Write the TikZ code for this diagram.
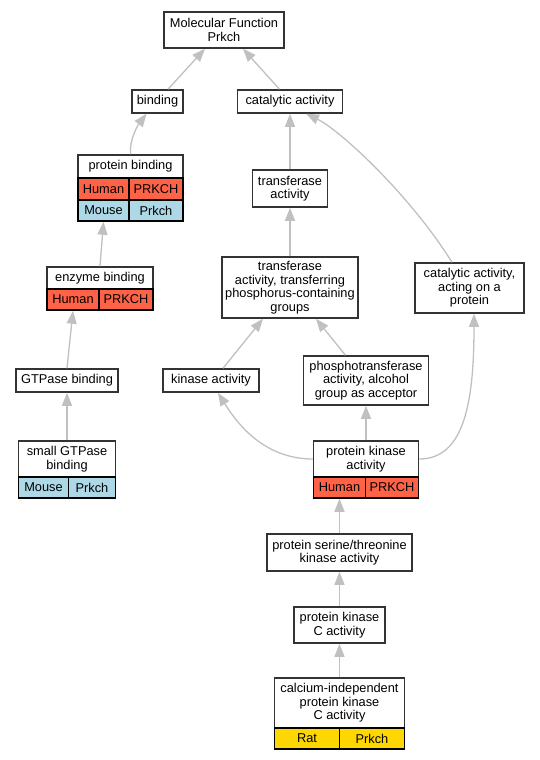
\documentclass[tikz,border=0pt]{standalone}
\usepackage{fontspec}
\setmainfont{Liberation Sans}
\usetikzlibrary{arrows.meta,calc}
\definecolor{humancell}{RGB}{255,99,71}
\definecolor{mousecell}{RGB}{173,216,230}
\definecolor{ratcell}{RGB}{255,215,0}
\definecolor{edgegris}{RGB}{192,192,192}
\definecolor{boxgris}{RGB}{51,51,51}
\newcommand{\gofont}{\fontsize{12.8}{13.5}\selectfont}
\tikzset{
	term/.style={draw=boxgris,line width=1.5pt,fill=white,align=center,inner sep=0pt,font=\gofont},
	cell/.style={draw=black,line width=1.5pt,inner sep=0pt,font=\gofont},
	isa/.style={draw=edgegris,line width=1.3pt,-{Triangle[length=13pt,width=10pt]}}
}

\begin{document}
\begin{tikzpicture}[x=1pt,y=-1pt]
		\useasboundingbox (0,0) rectangle (539,760);
			\node[term,minimum width=120,minimum height=36] (molfun) at (224,30) {Molecular Function\\Prkch};
			\node[term,minimum width=51,minimum height=23] (binding) at (157.5,101.5) {binding};
			\node[term,minimum width=105,minimum height=23] (catalytic) at (290,101.5) {catalytic activity};
			\node[term,minimum width=105,minimum height=23] (protbind) at (130.5,166.5) {protein binding};
				\node[cell,fill=humancell,minimum width=51,minimum height=22] (pbhuman) at (103.5,189) {Human};
				\node[cell,fill=humancell,minimum width=54,minimum height=22] (pbprkch) at (156,189) {PRKCH};
				\node[cell,fill=mousecell,minimum width=51,minimum height=21] (pbmouse) at (103.5,210.5) {Mouse};
				\node[cell,fill=mousecell,minimum width=54,minimum height=21] (pbprkchm) at (156,210.5) {Prkch};
			\node[term,minimum width=75,minimum height=37] (transact) at (290,188.5) {transferase\\activity};
			\node[term,minimum width=106,minimum height=22] (enzyme) at (100,278) {enzyme binding};
				\node[cell,fill=humancell,minimum width=52,minimum height=21] (enzhuman) at (73,299.5) {Human};
				\node[cell,fill=humancell,minimum width=54,minimum height=21] (enzprkch) at (126,299.5) {PRKCH};
			\node[term,minimum width=136,minimum height=61] (transfer) at (290,287.5) {transferase\\activity, transferring\\phosphorus-containing\\groups};
			\node[term,minimum width=109,minimum height=50] (acting) at (469.5,288) {catalytic activity,\\acting on a\\protein};
			\node[term,minimum width=102,minimum height=23] (gtpase) at (67,380.5) {GTPase binding};
			\node[term,minimum width=96,minimum height=23] (kinase) at (211,380.5) {kinase activity};
			\node[term,minimum width=125,minimum height=49] (phospho) at (366,380.5) {phosphotransferase\\activity, alcohol\\group as acceptor};
			\node[term,minimum width=97,minimum height=36] (smallgtp) at (67,459) {small GTPase\\binding};
				\node[cell,fill=mousecell,minimum width=50,minimum height=21] (sgmouse) at (43.5,487.5) {Mouse};
				\node[cell,fill=mousecell,minimum width=47,minimum height=21] (sgprkch) at (92,487.5) {Prkch};
			\node[term,minimum width=105,minimum height=36] (pka) at (366,459) {protein kinase\\activity};
				\node[cell,fill=humancell,minimum width=52,minimum height=21] (pkahuman) at (339.5,487.5) {Human};
				\node[cell,fill=humancell,minimum width=53,minimum height=21] (pkaprkch) at (392,487.5) {PRKCH};
			\node[term,minimum width=145,minimum height=37] (serthr) at (339.5,552.5) {protein serine/threonine\\kinase activity};
			\node[term,minimum width=91,minimum height=36] (pkc) at (339.5,625) {protein kinase\\C activity};
			\node[term,minimum width=130,minimum height=50] (calcium) at (339.5,703) {calcium-independent\\protein kinase\\C activity};
				\node[cell,fill=ratcell,minimum width=65,minimum height=21] (calrat) at (307,738.5) {Rat};
				\node[cell,fill=ratcell,minimum width=65,minimum height=21] (calprkch) at (372,738.5) {Prkch};
			\draw[isa] ($(binding.north)+(10.5,0)$) -- ($(molfun.south)+(-19,0)$);
			\draw[isa] ($(catalytic.north)+(-10.5,0)$) -- ($(molfun.south)+(19,0)$);
			\draw[isa] (protbind.north) .. controls (129,140) and (138,125) .. ($(binding.south)+(-11,0)$);
			\draw[isa] (transact.north) -- (catalytic.south);
			\draw[isa] ($(acting.north)+(-17.5,0)$) .. controls (410,195) and (340,130) .. ($(catalytic.south)+(16,0)$);
			\draw[isa] (enzyme.north) -- (pbmouse.south);
			\draw[isa] (transfer.north) -- (transact.south);
			\draw[isa] (gtpase.north) -- (enzhuman.south);
			\draw[isa] ($(kinase.north)+(12,0)$) -- ($(transfer.south)+(-27,0)$);
			\draw[isa] ($(phospho.north)+(-20.5,0)$) -- ($(transfer.south)+(26,0)$);
			\draw[isa] (smallgtp.north) -- (gtpase.south);
			\draw[isa] (pka.west) .. controls (265,459) and (238,425) .. ($(kinase.south)+(7,0)$);
			\draw[isa] (pka.north) -- (phospho.south);
			\draw[isa] (pka.east) .. controls (465,459) and (474,400) .. ($(acting.south)+(4.5,0)$);
			\draw[isa] (serthr.north) -- (pkahuman.south);
			\draw[isa] (pkc.north) -- (serthr.south);
			\draw[isa] (calcium.north) -- (pkc.south);
		\end{tikzpicture}
\end{document}
